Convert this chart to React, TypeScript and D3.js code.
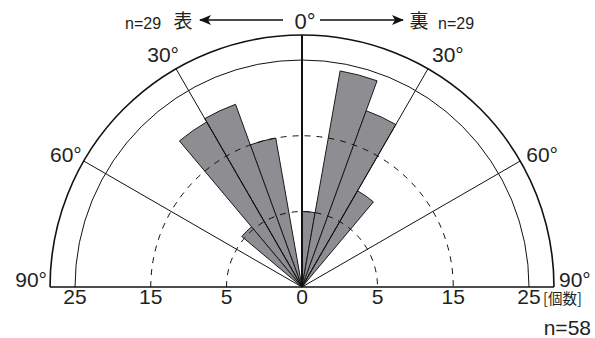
import React from "react";
import * as d3 from "d3";

// bins are 10° wide, measured from 0° (vertical)
const binStarts = [0, 10, 20, 30, 40];
const omoteCounts = [0, 15, 20.7, 20.2, 5.4]; // 表 (left)
const uraCounts = [5, 24, 19.8, 9.7, 0]; // 裏 (right)
const ringTicks = [5, 15, 25];
const axisLabels = [25, 15, 5, 0, 5, 15, 25];
const axisSides = [-1, -1, -1, 0, 1, 1, 1];
const spokeAngles = [-60, -30, 30, 60];
const degreeLabels = [30, 60, 90];

const W = 595;
const H = 338;
const cx = 302;
const cy = 287;
const R = 252;
const FONT = "'Liberation Sans', Arial, Helvetica, sans-serif";
const CJK = "'Noto Sans CJK JP', sans-serif";

export default function App() {
  const r = d3.scaleLinear().domain([0, 5, 25]).range([0, 75.5, 227]);
  const rad = (deg: number) => (deg * Math.PI) / 180;
  const pt = (deg: number, radius: number) => [
    cx + radius * Math.sin(rad(deg)),
    cy - radius * Math.cos(rad(deg)),
  ];
  const arcGen = d3.arc<any>();
  const wedges: { d: string; key: string }[] = [];
  binStarts.forEach((b, i) => {
    if (omoteCounts[i] > 0)
      wedges.push({
        key: "o" + i,
        d: arcGen({ innerRadius: 0, outerRadius: r(omoteCounts[i]), startAngle: rad(-b - 10), endAngle: rad(-b) }) as string,
      });
    if (uraCounts[i] > 0)
      wedges.push({
        key: "u" + i,
        d: arcGen({ innerRadius: 0, outerRadius: r(uraCounts[i]), startAngle: rad(b), endAngle: rad(b + 10) }) as string,
      });
  });
  const semiPath = (radius: number) => {
    const p = d3.path();
    p.moveTo(cx - radius, cy);
    p.arc(cx, cy, radius, Math.PI, 2 * Math.PI);
    return p.toString();
  };

  const labelPos: Record<number, { dl: number; dr: number; dy: number }> = {
    30: { dl: 3, dr: 4, dy: -7 },
    60: { dl: -2, dr: 6, dy: 1 },
    90: { dl: -3, dr: 5, dy: 0 },
  };

  return (
    <svg width={W} height={H} style={{ position: "absolute", left: 0, top: 0, background: "#fff" }}>
      <defs>
        <marker id="ah" viewBox="0 0 12 10" refX="11" refY="5" markerWidth="12" markerHeight="10" markerUnits="userSpaceOnUse" orient="auto">
          <path d="M0,0 L12,5 L0,10 L3,5 Z" fill="#111" />
        </marker>
      </defs>
      {/* wedges */}
      <g transform={`translate(${cx},${cy})`}>
        {wedges.map((w) => (
          <path key={w.key} d={w.d} fill="#8e8e92" stroke="#1a1a1a" strokeWidth={1} strokeLinejoin="round" />
        ))}
      </g>
      {/* rings */}
      {ringTicks.map((t) => (
        <path
          key={t}
          d={semiPath(r(t))}
          fill="none"
          stroke="#111"
          strokeWidth={1}
          strokeDasharray={t === 25 ? undefined : "6,6"}
        />
      ))}
      <path d={semiPath(R)} fill="none" stroke="#111" strokeWidth={1.6} />
      {/* spokes */}
      {spokeAngles.map((a) => {
        const [x, y] = pt(a, R);
        return <line key={a} x1={cx} y1={cy} x2={x} y2={y} stroke="#111" strokeWidth={1} />;
      })}
      <line x1={cx} y1={cy} x2={cx} y2={cy - R} stroke="#111" strokeWidth={2} />
      <line x1={cx - R} y1={cy} x2={cx + R} y2={cy} stroke="#111" strokeWidth={1.6} />
      {/* axis labels */}
      {axisLabels.map((v, i) => (
        <text key={i} x={cx + axisSides[i] * r(v)} y={304} textAnchor="middle" fontFamily={FONT} fontSize={21} fill="#231f20">
          {v}
        </text>
      ))}
      <text x={543} y={304} fontFamily={CJK} fontSize={14.5} fill="#231f20">[個数]</text>
      <text x={591} y={335} textAnchor="end" fontFamily={FONT} fontSize={21} fill="#231f20">n=58</text>
      {/* degree labels */}
      {degreeLabels.map((a) => {
        const [xl, yl] = pt(-a, R);
        const [xr, yr] = pt(a, R);
        const o = labelPos[a];
        return (
          <g key={a} fontFamily={FONT} fontSize={21} fill="#231f20">
            <text x={xl + o.dl} y={yl + o.dy} textAnchor="end">{a}°</text>
            <text x={xr + o.dr} y={yr + o.dy} textAnchor="start">{a}°</text>
          </g>
        );
      })}
      {/* header */}
      <text x={305} y={29} textAnchor="middle" fontFamily={FONT} fontSize={22} fill="#231f20">0°</text>
      <line x1={283} y1={20} x2={200} y2={20} stroke="#111" strokeWidth={1.3} markerEnd="url(#ah)" />
      <line x1={320} y1={20} x2={403} y2={20} stroke="#111" strokeWidth={1.3} markerEnd="url(#ah)" />
      <text x={183} y={28} textAnchor="middle" fontFamily={CJK} fontSize={19} fill="#231f20">表</text>
      <text x={419} y={28} textAnchor="middle" fontFamily={CJK} fontSize={19} fill="#231f20">裏</text>
      <text x={125} y={29} fontFamily={FONT} fontSize={16} fill="#231f20">n=29</text>
      <text x={438} y={29} fontFamily={FONT} fontSize={16} fill="#231f20">n=29</text>
    </svg>
  );
}
